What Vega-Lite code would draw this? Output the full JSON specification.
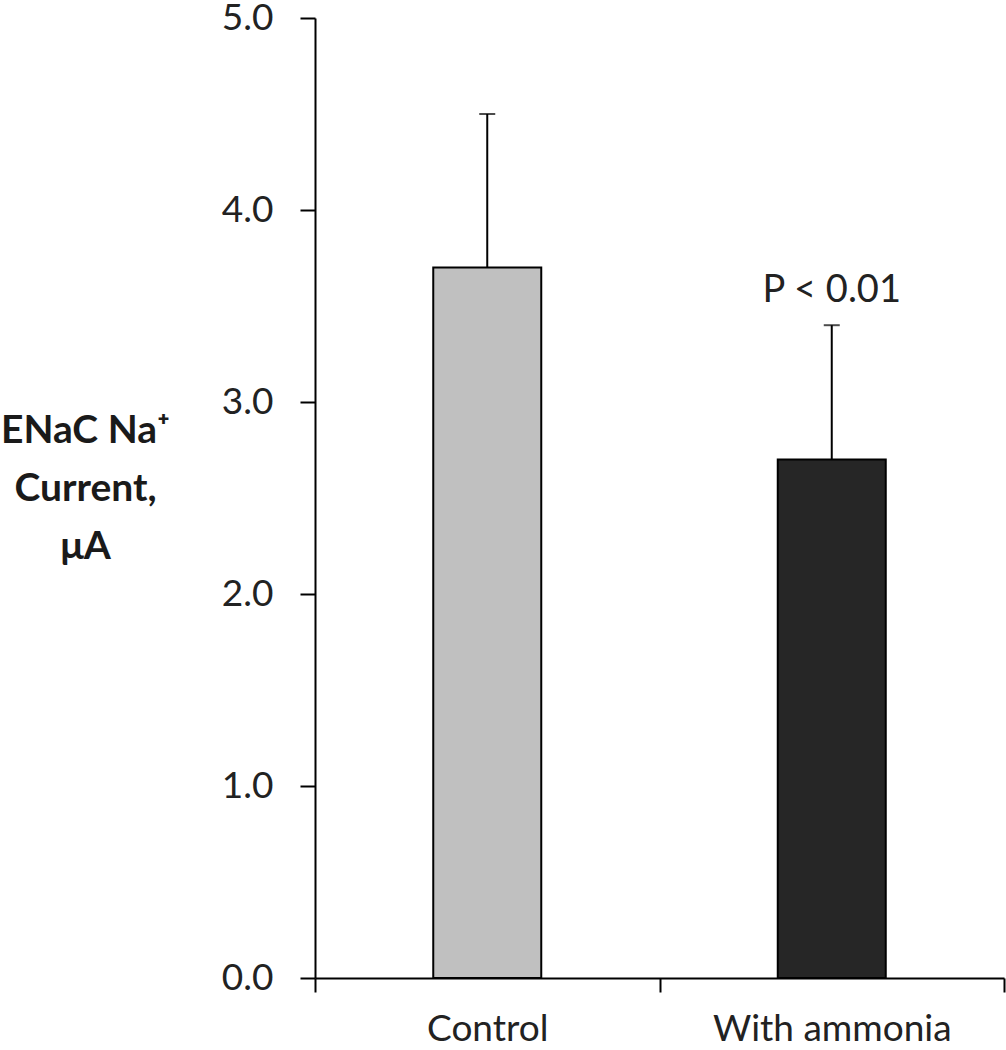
{
  "$schema": "https://vega.github.io/schema/vega-lite/v6.json",
  "width": 689,
  "height": 960,
  "autosize": "none",
  "padding": {"left": 315, "top": 18, "right": 2, "bottom": 72},
  "background": "white",
  "config": {"view": {"stroke": null}, "font": "Lato"},
  "data": {
    "values": [
      {"group": "Control", "current": 3.7, "upper": 4.5, "label": ""},
      {"group": "With ammonia", "current": 2.7, "upper": 3.4, "label": "P < 0.01"}
    ]
  },
  "encoding": {
    "x": {
      "field": "group",
      "type": "nominal",
      "sort": null,
      "scale": {"paddingInner": 0, "paddingOuter": 0},
      "axis": {
        "title": null,
        "tickBand": "extent",
        "tickSize": 14,
        "tickWidth": 2,
        "tickColor": "black",
        "domainWidth": 2,
        "domainColor": "black",
        "labelAngle": 0,
        "labelLimit": 0,
        "labelFont": "Lato",
        "labelFontSize": 37,
        "labelPadding": 19,
        "labelColor": "#222222"
      }
    }
  },
  "layer": [
    {
      "mark": {"type": "bar", "size": 108, "stroke": "black", "strokeWidth": 2},
      "encoding": {
        "y": {
          "field": "current",
          "type": "quantitative",
          "scale": {"domain": [0, 5], "nice": false, "zero": true},
          "axis": {
            "title": ["ENaC Na⁺", "Current,", "μA"],
            "titleAngle": 0,
            "titleAlign": "center",
            "titleBaseline": "alphabetic",
            "titleX": -230,
            "titleY": 424,
            "titleFont": "Lato",
            "titleFontSize": 39,
            "titleFontWeight": "bold",
            "titleLineHeight": 58,
            "titleColor": "#1a1a1a",
            "values": [0, 1, 2, 3, 4, 5],
            "format": ".1f",
            "grid": false,
            "tickSize": 15,
            "tickWidth": 2,
            "tickColor": "black",
            "domainWidth": 2,
            "domainColor": "black",
            "labelFont": "Lato",
            "labelFontSize": 37,
            "labelPadding": 27,
            "labelColor": "#222222"
          }
        },
        "fill": {
          "field": "group",
          "type": "nominal",
          "scale": {"domain": ["Control", "With ammonia"], "range": ["#c0c0c0", "#262626"]},
          "legend": null
        }
      }
    },
    {
      "mark": {"type": "rule", "color": "black", "strokeWidth": 2},
      "encoding": {
        "y": {"field": "current", "type": "quantitative"},
        "y2": {"field": "upper"}
      }
    },
    {
      "mark": {"type": "tick", "color": "black", "size": 16, "thickness": 2},
      "encoding": {
        "y": {"field": "upper", "type": "quantitative"}
      }
    },
    {
      "mark": {"type": "text", "dy": -23, "baseline": "alphabetic", "align": "center", "font": "Lato", "fontSize": 38, "color": "#222222"},
      "encoding": {
        "y": {"field": "upper", "type": "quantitative"},
        "text": {"field": "label"}
      }
    }
  ]
}
